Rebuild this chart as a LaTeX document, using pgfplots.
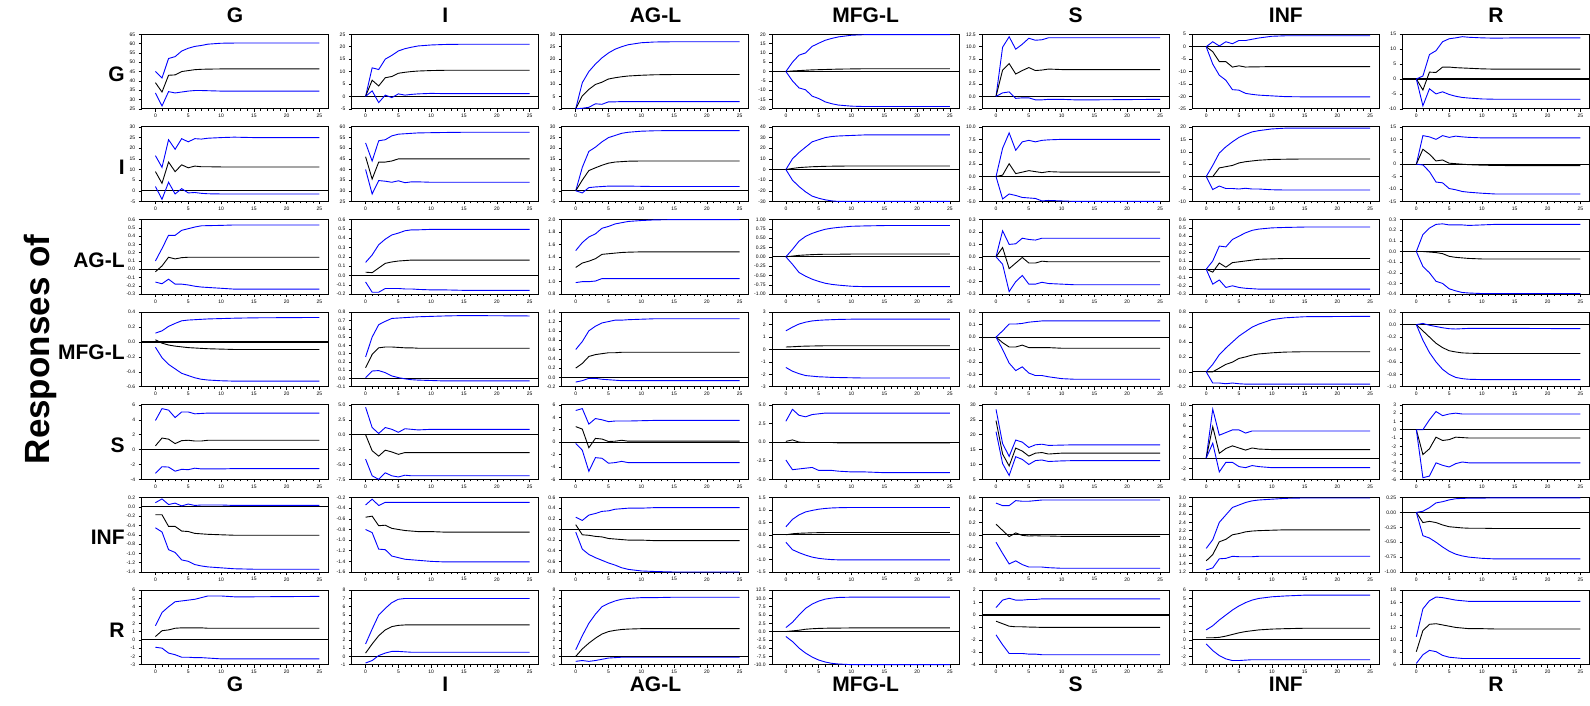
\documentclass[border=0pt]{standalone}
\usepackage{fontspec}
\setmainfont{Liberation Sans}
\usepackage{pgfplots}
\usepackage{pgfplotstable}
\pgfplotsset{compat=1.18}
\usepgfplotslibrary{groupplots}

% one panel: columns x, upper band, response, lower band
\newcommand{\irf}[1]{%
  \pgfplotstableread[row sep=\\]{#1}\irftab
  \addplot[irfband] table[x index=0,y index=1]{\irftab};
  \addplot[irfmid] table[x index=0,y index=2]{\irftab};
  \addplot[irfband] table[x index=0,y index=3]{\irftab};}

\pgfplotsset{
  irfband/.style={blue, line width=0.9pt, mark=none},
  irfmid/.style={black, line width=0.9pt, mark=none},
  p1/.style={yticklabel style={/pgf/number format/fixed,/pgf/number format/fixed zerofill,/pgf/number format/precision=1}},
  p2/.style={yticklabel style={/pgf/number format/fixed,/pgf/number format/fixed zerofill,/pgf/number format/precision=2}},
}
\tikzset{
  ctop/.style={anchor=base, yshift=12pt, font=\fontsize{21}{21}\selectfont\bfseries},
  cbot/.style={anchor=base, yshift=-27pt, font=\fontsize{21}{21}\selectfont\bfseries},
  rlab/.style={anchor=east, xshift=-13.5pt, yshift=-3pt, font=\fontsize{21}{21}\selectfont\bfseries},
}

\begin{document}
\begin{tikzpicture}
\begin{groupplot}[
  group style={group size=7 by 7, horizontal sep=23.2pt, vertical sep=18.17pt},
  scale only axis, width=187pt, height=74.5pt,
  xmin=-2.1, xmax=26.4,
  xtick={0,5,...,25}, minor x tick num=4,
  tick align=outside, xtick pos=lower, ytick pos=left,
  major tick length=3pt, minor tick length=2pt,
  tick style={black, line width=0.5pt},
  tick label style={font=\fontsize{5}{5}\selectfont},
  xticklabel style={yshift=1pt},
  /pgf/number format/assume math mode=true,
  axis line style={line width=1pt},
  clip=false,
  extra y ticks={0}, extra y tick labels={},
  extra y tick style={grid=major, major grid style={black, line width=1.1pt}, major tick length=0pt},
]
%%%%% row G
\nextgroupplot[ymin=25,ymax=65,ytick distance=5]
\coordinate (tl) at (rel axis cs:0,1);
\node[ctop] at (rel axis cs:0.5,1) {G};
\node[rlab] at (rel axis cs:0,0.5) {G};
\irf{x u m l\\ 0 45 39 33.5\\ 1 41.5 34 26.5\\ 2 52 43 34.2\\ 3 53 43.2 33.5\\ 4 56 45 34\\ 5 57.5 45.5 34.5\\ 6 58.5 46 34.8\\ 7 59 46.2 34.8\\ 8 59.7 46.3 34.7\\ 10 60.2 46.4 34.5\\ 12 60.3 46.4 34.5\\ 15 60.3 46.4 34.5\\ 25 60.3 46.4 34.5\\}
\nextgroupplot[ymin=-5,ymax=25,ytick distance=5]
\node[ctop] at (rel axis cs:0.5,1) {I};
\irf{x u m l\\ 0 0 0 0\\ 1 11.5 6.5 2.2\\ 2 10.8 4.2 -2.5\\ 3 15 7.5 0.5\\ 4 16.5 8 -0.5\\ 5 18.3 9.3 1\\ 6 19.2 9.7 0.5\\ 7 19.8 10 0.8\\ 8 20.3 10.2 1\\ 10 20.7 10.4 1.2\\ 12 20.9 10.5 1.1\\ 15 21 10.5 1.1\\ 25 21 10.5 1.1\\}
\nextgroupplot[ymin=0,ymax=30,ytick distance=5]
\node[ctop] at (rel axis cs:0.5,1) {AG-L};
\irf{x u m l\\ 0 0 0 0\\ 1 10.5 5.2 0.2\\ 2 15 7.8 0.6\\ 3 18 9.8 2\\ 4 20.5 10.7 1.8\\ 5 22.5 12 2.8\\ 6 24 12.5 2.8\\ 7 25 12.9 2.9\\ 8 25.8 13.2 2.9\\ 10 26.6 13.5 2.9\\ 12 26.9 13.7 2.9\\ 15 27 13.8 2.9\\ 25 27 13.8 2.9\\}
\nextgroupplot[ymin=-20,ymax=20,ytick distance=5]
\node[ctop] at (rel axis cs:0.5,1) {MFG-L};
\irf{x u m l\\ 0 0 0 0\\ 1 5 0.3 -5\\ 2 8.8 0.5 -8.8\\ 3 10 0.7 -9.8\\ 4 13.5 0.9 -13.2\\ 5 15.2 1.0 -14.5\\ 6 16.8 1.1 -16.3\\ 7 17.8 1.2 -17.3\\ 8 18.6 1.3 -18\\ 10 19.5 1.4 -18.6\\ 12 19.8 1.5 -18.8\\ 15 19.8 1.5 -18.8\\ 25 19.8 1.5 -18.8\\}
\nextgroupplot[ymin=-2.5,ymax=12.5,ytick distance=2.5,p1]
\node[ctop] at (rel axis cs:0.5,1) {S};
\irf{x u m l\\ 0 0 0 0\\ 1 9.9 5.3 0.7\\ 2 12 6.6 0.9\\ 3 9.5 4.5 -0.4\\ 4 10.5 5.2 -0.3\\ 5 11.7 5.8 -0.3\\ 6 11.3 5.2 -0.7\\ 7 11.4 5.3 -0.7\\ 8 11.8 5.5 -0.6\\ 10 11.8 5.4 -0.6\\ 12 11.8 5.4 -0.7\\ 15 11.8 5.4 -0.7\\ 25 11.8 5.4 -0.6\\}
\nextgroupplot[ymin=-25,ymax=5,ytick distance=5]
\node[ctop] at (rel axis cs:0.5,1) {INF};
\irf{x u m l\\ 0 0 0 0\\ 1 2 -2 -7\\ 2 0.3 -6 -11.5\\ 3 2 -6 -13.5\\ 4 1.2 -8.2 -17.3\\ 5 2.5 -7.7 -17.5\\ 6 2.5 -8.2 -18.8\\ 7 3 -8.1 -19.2\\ 8 3.5 -8.1 -19.5\\ 10 4.2 -8 -19.8\\ 12 4.4 -8 -20.1\\ 15 4.4 -8 -20.2\\ 25 4.4 -8 -20.2\\}
\nextgroupplot[ymin=-10,ymax=15,ytick distance=5]
\node[ctop] at (rel axis cs:0.5,1) {R};
\irf{x u m l\\ 0 0 0 0\\ 1 1 -3.7 -9\\ 2 8.2 2.3 -3.3\\ 3 9.5 2.2 -5\\ 4 12.5 4 -4.3\\ 5 13.5 4 -5.2\\ 6 13.8 3.8 -5.8\\ 7 14.2 3.7 -6.2\\ 8 14 3.6 -6.4\\ 10 13.8 3.4 -6.7\\ 12 13.7 3.3 -6.8\\ 15 13.8 3.3 -6.8\\ 25 13.8 3.3 -6.8\\}
%%%%% row I
\nextgroupplot[ymin=-5,ymax=30,ytick distance=5]
\node[rlab] at (rel axis cs:0,0.5) {I};
\irf{x u m l\\ 0 16.5 9 2\\ 1 11 3.5 -4\\ 2 24 13.5 4\\ 3 19.5 9 -1.5\\ 4 24.5 12.2 1\\ 5 23 10.8 -1\\ 6 24.5 11.6 -0.8\\ 7 24.3 11.3 -1.2\\ 8 24.7 11.3 -1.4\\ 10 25 11.2 -1.5\\ 12 25.2 11.2 -1.5\\ 15 25 11.2 -1.5\\ 25 25 11.2 -1.5\\}
\nextgroupplot[ymin=25,ymax=60,ytick distance=5]
\irf{x u m l\\ 0 52.5 46 40\\ 1 44 35.5 28.5\\ 2 53.5 43.5 34.8\\ 3 54 43.5 34.5\\ 4 55.8 44 34\\ 5 56.6 45 34.7\\ 6 56.8 45 33.8\\ 7 57 45 34.2\\ 8 57.2 45 34.2\\ 10 57.3 45 34\\ 12 57.4 45 34\\ 15 57.5 45 34\\ 25 57.5 45 34\\}
\nextgroupplot[ymin=-5,ymax=30,ytick distance=5]
\irf{x u m l\\ 0 0 0 0\\ 1 11 5 -1\\ 2 18.5 9.5 1.5\\ 3 20.5 10.8 1.8\\ 4 23 12 2\\ 5 25 13 2.2\\ 6 26 13.5 2.2\\ 7 27 13.7 2.2\\ 8 27.5 13.9 2.2\\ 10 28 14 2.1\\ 12 28.2 14 2\\ 15 28.3 14 2\\ 25 28.3 14 2\\}
\nextgroupplot[ymin=-30,ymax=40,ytick distance=10]
\irf{x u m l\\ 0 0 0 0\\ 1 10 1 -10\\ 2 16 1.8 -16\\ 3 21 2.2 -21\\ 4 26 2.6 -25\\ 5 28 2.8 -27\\ 6 30 3 -28.5\\ 7 31 3.1 -29.5\\ 8 31.5 3.2 -30\\ 10 32 3.3 -30\\ 12 32.5 3.3 -30\\ 15 32.5 3.3 -30\\ 25 32.5 3.3 -30\\}
\nextgroupplot[ymin=-5,ymax=10,ytick distance=2.5,p1]
\irf{x u m l\\ 0 0 0 0\\ 1 5.7 0.3 -4.5\\ 2 8.8 2.6 -3.5\\ 3 5.3 0.6 -3.8\\ 4 7 0.9 -4.2\\ 5 7.3 1.2 -4.3\\ 6 7 1 -4.4\\ 7 7.3 0.8 -4.9\\ 8 7.4 1 -4.8\\ 10 7.5 0.9 -4.9\\ 12 7.5 0.9 -5\\ 15 7.5 0.9 -5\\ 25 7.5 0.9 -5\\}
\nextgroupplot[ymin=-10,ymax=20,ytick distance=5]
\irf{x u m l\\ 0 0 0 0\\ 1 4.5 0 -5.2\\ 2 9.5 3.5 -3.8\\ 3 12 4 -4.8\\ 4 14 4.5 -4.8\\ 5 15.8 5.5 -5\\ 6 17 6 -4.7\\ 7 18 6.3 -5\\ 8 18.5 6.6 -5\\ 10 19.2 6.9 -5.3\\ 12 19.5 7 -5.4\\ 15 19.5 7.1 -5.4\\ 25 19.5 7.1 -5.4\\}
\nextgroupplot[ymin=-15,ymax=15,ytick distance=5]
\irf{x u m l\\ 0 0 0 0\\ 1 11.5 6 -0.3\\ 2 11 4 -3\\ 3 10 1.3 -7.2\\ 4 11.5 1.7 -7.5\\ 5 10.8 0.4 -9.8\\ 6 11.3 0.2 -10.3\\ 7 11 0 -11\\ 8 10.8 -0.2 -11.3\\ 10 10.6 -0.4 -11.7\\ 12 10.6 -0.5 -12\\ 15 10.6 -0.6 -12\\ 25 10.6 -0.6 -12\\}
%%%%% row AG-L
\nextgroupplot[ymin=-0.3,ymax=0.6,ytick distance=0.1,p1]
\node[rlab] at (rel axis cs:0,0.5) {AG-L};
\irf{x u m l\\ 0 0.1 -0.03 -0.155\\ 1 0.25 0.04 -0.175\\ 2 0.41 0.145 -0.12\\ 3 0.41 0.125 -0.18\\ 4 0.47 0.14 -0.18\\ 5 0.49 0.145 -0.19\\ 6 0.51 0.145 -0.205\\ 7 0.525 0.145 -0.215\\ 8 0.527 0.145 -0.22\\ 10 0.53 0.145 -0.23\\ 12 0.535 0.145 -0.24\\ 15 0.535 0.145 -0.24\\ 25 0.535 0.145 -0.24\\}
\nextgroupplot[ymin=-0.2,ymax=0.6,ytick distance=0.1,p1]
\irf{x u m l\\ 0 0.14 0.035 -0.07\\ 1 0.22 0.03 -0.18\\ 2 0.33 0.08 -0.18\\ 3 0.39 0.13 -0.14\\ 4 0.435 0.145 -0.14\\ 5 0.455 0.155 -0.14\\ 6 0.48 0.16 -0.145\\ 7 0.49 0.165 -0.145\\ 8 0.49 0.165 -0.15\\ 10 0.495 0.165 -0.155\\ 12 0.495 0.165 -0.155\\ 15 0.495 0.165 -0.16\\ 25 0.495 0.165 -0.16\\}
\nextgroupplot[ymin=0.8,ymax=2.0,ytick distance=0.2,p1]
\irf{x u m l\\ 0 1.5 1.23 0.985\\ 1 1.63 1.3 1.0\\ 2 1.72 1.33 1.0\\ 3 1.77 1.37 1.01\\ 4 1.86 1.44 1.05\\ 5 1.89 1.45 1.05\\ 6 1.93 1.46 1.05\\ 7 1.95 1.47 1.05\\ 8 1.97 1.475 1.05\\ 10 1.985 1.48 1.05\\ 12 1.995 1.48 1.05\\ 15 2.0 1.48 1.05\\ 25 2.0 1.48 1.05\\}
\nextgroupplot[ymin=-1,ymax=1,ytick distance=0.25,p2]
\irf{x u m l\\ 0 0 0 0\\ 1 0.2 0.02 -0.2\\ 2 0.42 0.04 -0.42\\ 3 0.55 0.05 -0.52\\ 4 0.63 0.06 -0.6\\ 5 0.69 0.065 -0.66\\ 6 0.74 0.07 -0.71\\ 7 0.77 0.07 -0.74\\ 8 0.79 0.07 -0.76\\ 10 0.82 0.075 -0.79\\ 12 0.83 0.075 -0.8\\ 15 0.84 0.075 -0.8\\ 25 0.84 0.075 -0.8\\}
\nextgroupplot[ymin=-0.3,ymax=0.3,ytick distance=0.1,p1]
\irf{x u m l\\ 0 0 0 0\\ 1 0.21 0.075 -0.06\\ 2 0.1 -0.095 -0.28\\ 3 0.105 -0.05 -0.2\\ 4 0.15 -0.005 -0.15\\ 5 0.14 -0.05 -0.22\\ 6 0.135 -0.05 -0.22\\ 7 0.15 -0.035 -0.205\\ 8 0.15 -0.04 -0.215\\ 10 0.15 -0.04 -0.22\\ 12 0.15 -0.04 -0.225\\ 15 0.15 -0.04 -0.225\\ 25 0.15 -0.04 -0.225\\}
\nextgroupplot[ymin=-0.3,ymax=0.6,ytick distance=0.1,p1]
\irf{x u m l\\ 0 0 0 0\\ 1 0.1 -0.035 -0.18\\ 2 0.28 0.075 -0.13\\ 3 0.27 0.025 -0.22\\ 4 0.36 0.08 -0.2\\ 5 0.4 0.09 -0.22\\ 6 0.44 0.1 -0.23\\ 7 0.47 0.11 -0.235\\ 8 0.485 0.12 -0.24\\ 10 0.5 0.125 -0.24\\ 12 0.505 0.13 -0.24\\ 15 0.51 0.13 -0.24\\ 25 0.51 0.13 -0.24\\}
\nextgroupplot[ymin=-0.4,ymax=0.3,ytick distance=0.1,p1]
\irf{x u m l\\ 0 0 0 0\\ 1 0.16 0 -0.14\\ 2 0.22 -0.005 -0.2\\ 3 0.255 -0.01 -0.28\\ 4 0.26 -0.02 -0.3\\ 5 0.25 -0.045 -0.35\\ 6 0.25 -0.055 -0.37\\ 7 0.25 -0.06 -0.385\\ 8 0.245 -0.065 -0.39\\ 10 0.25 -0.07 -0.395\\ 12 0.255 -0.07 -0.395\\ 15 0.255 -0.07 -0.395\\ 25 0.255 -0.07 -0.395\\}
%%%%% row MFG-L
\nextgroupplot[ymin=-0.6,ymax=0.4,ytick distance=0.2,p1]
\node[rlab] at (rel axis cs:0,0.5) {MFG-L};
\coordinate (resp) at (rel axis cs:0,0.5);
\irf{x u m l\\ 0 0.12 0.03 -0.07\\ 1 0.15 -0.015 -0.21\\ 2 0.21 -0.04 -0.3\\ 3 0.25 -0.055 -0.36\\ 4 0.285 -0.065 -0.42\\ 5 0.295 -0.075 -0.45\\ 6 0.3 -0.08 -0.48\\ 7 0.305 -0.085 -0.5\\ 8 0.31 -0.09 -0.51\\ 10 0.315 -0.095 -0.52\\ 12 0.32 -0.1 -0.525\\ 15 0.325 -0.1 -0.525\\ 25 0.33 -0.1 -0.525\\}
\nextgroupplot[ymin=-0.1,ymax=0.8,ytick distance=0.1,p1]
\irf{x u m l\\ 0 0.26 0.13 0.01\\ 1 0.5 0.29 0.09\\ 2 0.65 0.37 0.095\\ 3 0.69 0.38 0.07\\ 4 0.725 0.38 0.03\\ 5 0.73 0.375 0.01\\ 6 0.735 0.37 -0.005\\ 7 0.74 0.37 -0.015\\ 8 0.745 0.365 -0.02\\ 10 0.75 0.365 -0.025\\ 12 0.755 0.365 -0.03\\ 15 0.76 0.365 -0.03\\ 25 0.755 0.365 -0.03\\}
\nextgroupplot[ymin=-0.2,ymax=1.4,ytick distance=0.2,p1]
\irf{x u m l\\ 0 0.6 0.2 -0.1\\ 1 0.77 0.3 -0.07\\ 2 1.0 0.45 -0.02\\ 3 1.1 0.49 -0.02\\ 4 1.17 0.51 -0.04\\ 5 1.2 0.53 -0.05\\ 6 1.23 0.53 -0.06\\ 7 1.23 0.54 -0.07\\ 8 1.24 0.54 -0.07\\ 10 1.25 0.54 -0.07\\ 12 1.26 0.54 -0.07\\ 15 1.26 0.54 -0.07\\ 25 1.26 0.54 -0.07\\}
\nextgroupplot[ymin=-3,ymax=3,ytick distance=1]
\irf{x u m l\\ 0 1.5 0.2 -1.45\\ 1 1.8 0.22 -1.75\\ 2 2.05 0.25 -1.95\\ 3 2.2 0.27 -2.1\\ 4 2.3 0.28 -2.15\\ 5 2.35 0.29 -2.2\\ 6 2.38 0.3 -2.22\\ 7 2.4 0.3 -2.25\\ 8 2.42 0.3 -2.26\\ 10 2.44 0.3 -2.28\\ 12 2.45 0.3 -2.3\\ 15 2.45 0.3 -2.3\\ 25 2.45 0.3 -2.3\\}
\nextgroupplot[ymin=-0.4,ymax=0.2,ytick distance=0.1,p1]
\irf{x u m l\\ 0 0 0 0\\ 1 0.05 -0.045 -0.1\\ 2 0.105 -0.08 -0.21\\ 3 0.105 -0.08 -0.27\\ 4 0.11 -0.065 -0.24\\ 5 0.12 -0.085 -0.29\\ 6 0.125 -0.085 -0.31\\ 7 0.13 -0.085 -0.31\\ 8 0.13 -0.085 -0.32\\ 10 0.13 -0.09 -0.335\\ 12 0.13 -0.09 -0.34\\ 15 0.13 -0.09 -0.34\\ 25 0.13 -0.09 -0.34\\}
\nextgroupplot[ymin=-0.2,ymax=0.8,ytick distance=0.2,p1]
\irf{x u m l\\ 0 0 0 0\\ 1 0.1 0 -0.15\\ 2 0.23 0.05 -0.15\\ 3 0.32 0.1 -0.16\\ 4 0.4 0.13 -0.15\\ 5 0.48 0.18 -0.16\\ 6 0.54 0.2 -0.165\\ 7 0.6 0.225 -0.165\\ 8 0.64 0.24 -0.165\\ 10 0.7 0.255 -0.165\\ 12 0.725 0.265 -0.165\\ 15 0.74 0.27 -0.165\\ 25 0.745 0.27 -0.165\\}
\nextgroupplot[ymin=-1,ymax=0.2,ytick distance=0.2,p1]
\irf{x u m l\\ 0 0 0 0\\ 1 0.02 -0.1 -0.25\\ 2 -0.01 -0.2 -0.45\\ 3 -0.03 -0.3 -0.6\\ 4 -0.05 -0.37 -0.72\\ 5 -0.065 -0.42 -0.8\\ 6 -0.07 -0.44 -0.85\\ 7 -0.065 -0.455 -0.87\\ 8 -0.06 -0.46 -0.88\\ 10 -0.06 -0.465 -0.885\\ 12 -0.06 -0.465 -0.885\\ 15 -0.06 -0.465 -0.885\\ 25 -0.065 -0.465 -0.885\\}
%%%%% row S
\nextgroupplot[ymin=-4,ymax=6,ytick distance=2]
\node[rlab] at (rel axis cs:0,0.5) {S};
\irf{x u m l\\ 0 3.9 0.5 -3.2\\ 1 5.5 1.55 -2.3\\ 2 5.3 1.4 -2.35\\ 3 4.3 0.8 -2.9\\ 4 5.05 1.2 -2.65\\ 5 5.05 1.25 -2.7\\ 6 4.8 1.15 -2.5\\ 7 4.85 1.15 -2.6\\ 8 4.9 1.25 -2.6\\ 10 4.9 1.25 -2.6\\ 12 4.9 1.25 -2.55\\ 15 4.9 1.25 -2.55\\ 25 4.9 1.25 -2.55\\}
\nextgroupplot[ymin=-7.5,ymax=5,ytick distance=2.5,p1]
\irf{x u m l\\ 0 4.6 0 -4.1\\ 1 1.2 -2.7 -6.9\\ 2 0.2 -3.6 -7.5\\ 3 1.2 -2.6 -6.4\\ 4 0.9 -2.9 -6.9\\ 5 0.4 -3.3 -7.1\\ 6 1 -3.0 -6.8\\ 7 0.9 -3.0 -6.9\\ 8 0.8 -3.0 -6.9\\ 10 0.9 -3.0 -6.9\\ 12 0.9 -3.0 -6.9\\ 15 0.9 -3.0 -6.9\\ 25 0.9 -3.0 -6.9\\}
\nextgroupplot[ymin=-6,ymax=6,ytick distance=2]
\irf{x u m l\\ 0 5.1 2.5 -0.2\\ 1 5.4 2.1 -1.3\\ 2 2.9 -0.9 -4.7\\ 3 3.8 0.6 -2.5\\ 4 3.6 0.5 -2.6\\ 5 3.3 0.1 -3.4\\ 6 3.4 0.15 -3.3\\ 7 3.4 0.3 -3.1\\ 8 3.4 0.15 -3.3\\ 10 3.45 0.15 -3.3\\ 12 3.5 0.15 -3.3\\ 15 3.5 0.15 -3.3\\ 25 3.5 0.15 -3.3\\}
\nextgroupplot[ymin=-5,ymax=5,ytick distance=2.5,p1]
\irf{x u m l\\ 0 2.8 0.1 -2.4\\ 1 4.4 0.3 -3.7\\ 2 3.6 0 -3.6\\ 3 3.4 -0.05 -3.5\\ 4 3.7 -0.05 -3.4\\ 5 3.8 -0.05 -3.8\\ 6 3.9 -0.05 -3.8\\ 7 3.9 -0.05 -3.8\\ 8 3.9 -0.1 -3.9\\ 10 3.9 -0.1 -4.0\\ 12 3.9 -0.1 -4.0\\ 15 3.9 -0.1 -4.1\\ 25 3.9 -0.1 -4.1\\}
\nextgroupplot[ymin=5,ymax=30,ytick distance=5]
\irf{x u m l\\ 0 28.5 24.7 21\\ 1 17 13.5 10.3\\ 2 12.7 9.5 6.3\\ 3 18.2 15.5 12.6\\ 4 17.5 14.5 11.7\\ 5 15.7 12.8 10\\ 6 16.6 13.8 11.3\\ 7 16.8 14 11.5\\ 8 16.4 13.5 11\\ 10 16.5 13.8 11.2\\ 12 16.6 13.8 11.3\\ 15 16.6 13.8 11.3\\ 25 16.6 13.8 11.3\\}
\nextgroupplot[ymin=-4,ymax=10,ytick distance=2]
\irf{x u m l\\ 0 0 0 0\\ 1 9.2 5.9 2.8\\ 2 4.3 0.9 -2.6\\ 3 4.8 1.8 -0.8\\ 4 5.3 2.3 -0.8\\ 5 5.3 1.9 -1.6\\ 6 4.7 1.5 -1.8\\ 7 5.1 1.9 -1.4\\ 8 5.1 1.7 -1.6\\ 10 5.1 1.6 -1.8\\ 12 5.1 1.6 -1.8\\ 15 5.1 1.6 -1.8\\ 25 5.1 1.6 -1.8\\}
\nextgroupplot[ymin=-6,ymax=3,ytick distance=1]
\irf{x u m l\\ 0 0 0 0\\ 1 0 -3 -5.8\\ 2 1.2 -2.3 -5.6\\ 3 2.2 -0.9 -4\\ 4 1.7 -1.3 -4.3\\ 5 1.9 -1.2 -4.5\\ 6 2 -0.9 -4.1\\ 7 1.9 -0.95 -3.9\\ 8 1.9 -1 -4\\ 10 1.9 -1 -4\\ 12 1.9 -1 -4\\ 15 1.9 -1 -4\\ 25 1.9 -1 -4\\}
%%%%% row INF
\nextgroupplot[ymin=-1.4,ymax=0.2,ytick distance=0.2,p1]
\node[rlab] at (rel axis cs:0,0.5) {INF};
\irf{x u m l\\ 0 0.09 -0.17 -0.45\\ 1 0.17 -0.17 -0.54\\ 2 0.05 -0.42 -0.92\\ 3 0.08 -0.42 -0.98\\ 4 0.02 -0.52 -1.14\\ 5 0.06 -0.53 -1.17\\ 6 0.03 -0.57 -1.24\\ 7 0.04 -0.58 -1.27\\ 8 0.04 -0.59 -1.29\\ 10 0.04 -0.6 -1.31\\ 12 0.03 -0.61 -1.33\\ 15 0.03 -0.61 -1.34\\ 25 0.03 -0.61 -1.34\\}
\nextgroupplot[ymin=-1.6,ymax=-0.2,ytick distance=0.2,p1]
\irf{x u m l\\ 0 -0.34 -0.57 -0.8\\ 1 -0.23 -0.55 -0.86\\ 2 -0.35 -0.73 -1.17\\ 3 -0.29 -0.72 -1.18\\ 4 -0.29 -0.78 -1.3\\ 5 -0.29 -0.8 -1.33\\ 6 -0.29 -0.82 -1.36\\ 7 -0.29 -0.83 -1.37\\ 8 -0.29 -0.84 -1.38\\ 10 -0.29 -0.84 -1.4\\ 12 -0.29 -0.85 -1.41\\ 15 -0.29 -0.85 -1.41\\ 25 -0.29 -0.85 -1.41\\}
\nextgroupplot[ymin=-0.8,ymax=0.6,ytick distance=0.2,p1]
\irf{x u m l\\ 0 0.23 0.09 -0.05\\ 1 0.17 -0.1 -0.37\\ 2 0.27 -0.11 -0.47\\ 3 0.3 -0.13 -0.53\\ 4 0.34 -0.14 -0.58\\ 5 0.35 -0.17 -0.63\\ 6 0.38 -0.18 -0.67\\ 7 0.39 -0.19 -0.72\\ 8 0.4 -0.2 -0.75\\ 10 0.4 -0.2 -0.78\\ 12 0.41 -0.21 -0.79\\ 15 0.41 -0.21 -0.8\\ 25 0.41 -0.21 -0.8\\}
\nextgroupplot[ymin=-1.5,ymax=1.5,ytick distance=0.5,p1]
\irf{x u m l\\ 0 0.32 0 -0.3\\ 1 0.62 0.04 -0.6\\ 2 0.8 0.06 -0.72\\ 3 0.92 0.07 -0.82\\ 4 0.98 0.08 -0.9\\ 5 1.03 0.085 -0.95\\ 6 1.06 0.09 -0.98\\ 7 1.08 0.09 -1.0\\ 8 1.09 0.09 -1.01\\ 10 1.1 0.09 -1.01\\ 12 1.1 0.09 -1.01\\ 15 1.1 0.09 -1.01\\ 25 1.1 0.09 -1.01\\}
\nextgroupplot[ymin=-0.6,ymax=0.6,ytick distance=0.2,p1]
\irf{x u m l\\ 0 0.51 0.17 -0.12\\ 1 0.47 0.07 -0.3\\ 2 0.47 -0.03 -0.47\\ 3 0.55 0.03 -0.42\\ 4 0.54 -0.01 -0.48\\ 5 0.54 -0.02 -0.52\\ 6 0.55 -0.015 -0.52\\ 7 0.56 -0.02 -0.52\\ 8 0.56 -0.02 -0.53\\ 10 0.56 -0.025 -0.54\\ 12 0.56 -0.025 -0.54\\ 15 0.56 -0.025 -0.54\\ 25 0.56 -0.025 -0.54\\}
\nextgroupplot[ymin=1.2,ymax=3.0,ytick distance=0.2,p1]
\irf{x u m l\\ 0 1.77 1.47 1.25\\ 1 1.98 1.62 1.3\\ 2 2.4 1.93 1.52\\ 3 2.58 1.99 1.53\\ 4 2.76 2.1 1.58\\ 5 2.82 2.13 1.57\\ 6 2.88 2.17 1.57\\ 7 2.92 2.19 1.57\\ 8 2.94 2.2 1.58\\ 10 2.96 2.21 1.58\\ 12 2.98 2.22 1.58\\ 15 2.99 2.22 1.58\\ 25 2.99 2.22 1.58\\}
\nextgroupplot[ymin=-1,ymax=0.25,ytick distance=0.25,p2]
\irf{x u m l\\ 0 0 0 0\\ 1 0.02 -0.17 -0.39\\ 2 0.08 -0.15 -0.43\\ 3 0.16 -0.17 -0.5\\ 4 0.18 -0.21 -0.58\\ 5 0.21 -0.24 -0.65\\ 6 0.23 -0.25 -0.7\\ 7 0.235 -0.26 -0.73\\ 8 0.24 -0.265 -0.75\\ 10 0.24 -0.265 -0.77\\ 12 0.245 -0.27 -0.78\\ 15 0.245 -0.27 -0.78\\ 25 0.245 -0.27 -0.78\\}
%%%%% row R
\nextgroupplot[ymin=-3,ymax=6,ytick distance=1]
\node[rlab] at (rel axis cs:0,0.5) {R};
\node[cbot] at (rel axis cs:0.5,0) {G};
\irf{x u m l\\ 0 1.7 0.4 -0.9\\ 1 3.3 1.1 -1\\ 2 4 1.2 -1.6\\ 3 4.6 1.4 -1.8\\ 4 4.7 1.45 -2.1\\ 5 4.8 1.45 -2.1\\ 6 4.9 1.45 -2.15\\ 7 5.1 1.45 -2.15\\ 8 5.3 1.4 -2.2\\ 10 5.3 1.4 -2.3\\ 12 5.2 1.4 -2.3\\ 15 5.2 1.4 -2.3\\ 25 5.25 1.4 -2.3\\}
\nextgroupplot[ymin=-1,ymax=8,ytick distance=1]
\node[cbot] at (rel axis cs:0.5,0) {I};
\irf{x u m l\\ 0 1.5 0.4 -0.8\\ 1 3.3 1.5 -0.5\\ 2 5 2.5 0.1\\ 3 5.8 3.2 0.4\\ 4 6.5 3.6 0.6\\ 5 6.9 3.75 0.6\\ 6 7 3.8 0.55\\ 7 7 3.8 0.5\\ 8 7 3.8 0.5\\ 10 7 3.8 0.5\\ 12 7 3.8 0.5\\ 15 7 3.8 0.5\\ 25 7 3.8 0.5\\}
\nextgroupplot[ymin=-1,ymax=8,ytick distance=1]
\node[cbot] at (rel axis cs:0.5,0) {AG-L};
\irf{x u m l\\ 0 0.8 0 -0.6\\ 1 2.5 0.9 -0.5\\ 2 4 1.6 -0.6\\ 3 5.1 2.2 -0.5\\ 4 6 2.7 -0.35\\ 5 6.4 3 -0.2\\ 6 6.7 3.15 -0.15\\ 7 6.9 3.25 -0.1\\ 8 7 3.3 -0.1\\ 10 7.1 3.35 -0.1\\ 12 7.1 3.35 -0.1\\ 15 7.15 3.35 -0.1\\ 25 7.15 3.35 -0.1\\}
\nextgroupplot[ymin=-10,ymax=12.5,ytick distance=2.5,p1]
\node[cbot] at (rel axis cs:0.5,0) {MFG-L};
\irf{x u m l\\ 0 1.2 0 -1.5\\ 1 2.8 0.2 -3\\ 2 5 0.4 -5\\ 3 7 0.7 -6.5\\ 4 8.3 0.85 -7.7\\ 5 9.2 0.95 -8.6\\ 6 9.8 1 -9.2\\ 7 10.1 1.05 -9.6\\ 8 10.3 1.05 -9.8\\ 10 10.4 1.1 -10\\ 12 10.4 1.1 -10\\ 15 10.4 1.1 -10\\ 25 10.4 1.1 -10\\}
\nextgroupplot[ymin=-4,ymax=2,ytick distance=1]
\node[cbot] at (rel axis cs:0.5,0) {S};
\irf{x u m l\\ 0 0.6 -0.5 -1.6\\ 1 1.2 -0.7 -2.4\\ 2 1.35 -0.9 -3.1\\ 3 1.2 -0.95 -3.1\\ 4 1.2 -0.95 -3.1\\ 5 1.25 -0.97 -3.15\\ 6 1.25 -0.98 -3.15\\ 7 1.3 -1 -3.2\\ 8 1.3 -1 -3.2\\ 10 1.3 -1 -3.2\\ 12 1.3 -1 -3.2\\ 15 1.3 -1 -3.2\\ 25 1.3 -1 -3.2\\}
\nextgroupplot[ymin=-3,ymax=6,ytick distance=1]
\node[cbot] at (rel axis cs:0.5,0) {INF};
\irf{x u m l\\ 0 1.2 0.25 -0.5\\ 1 1.7 0.25 -1.3\\ 2 2.4 0.3 -1.9\\ 3 3 0.45 -2.3\\ 4 3.6 0.65 -2.5\\ 5 4.1 0.85 -2.5\\ 6 4.5 1 -2.45\\ 7 4.8 1.1 -2.4\\ 8 5 1.2 -2.4\\ 10 5.2 1.3 -2.4\\ 12 5.3 1.35 -2.4\\ 15 5.4 1.4 -2.4\\ 25 5.4 1.4 -2.4\\}
\nextgroupplot[ymin=6,ymax=18,ytick distance=2]
\node[cbot] at (rel axis cs:0.5,0) {R};
\coordinate (br) at (rel axis cs:1,0);
\irf{x u m l\\ 0 10.5 8.1 6.2\\ 1 15 11.5 7.6\\ 2 16.3 12.5 8.3\\ 3 16.9 12.6 8.1\\ 4 16.8 12.4 7.5\\ 5 16.6 12.2 7.2\\ 6 16.4 12 7.1\\ 7 16.3 11.9 7\\ 8 16.2 11.8 7\\ 10 16.2 11.8 7\\ 12 16.2 11.75 7\\ 15 16.2 11.75 7\\ 25 16.2 11.75 7\\}
\end{groupplot}
\node[rotate=90, font=\fontsize{35}{35}\selectfont\bfseries] at ([xshift=-101.7pt]resp) {Responses of};
\pgfresetboundingbox
\path[use as bounding box] ([shift={(-141.7pt,34.3pt)}]tl) rectangle ([shift={(0.5pt,-41.2pt)}]br);
\end{tikzpicture}
\end{document}
